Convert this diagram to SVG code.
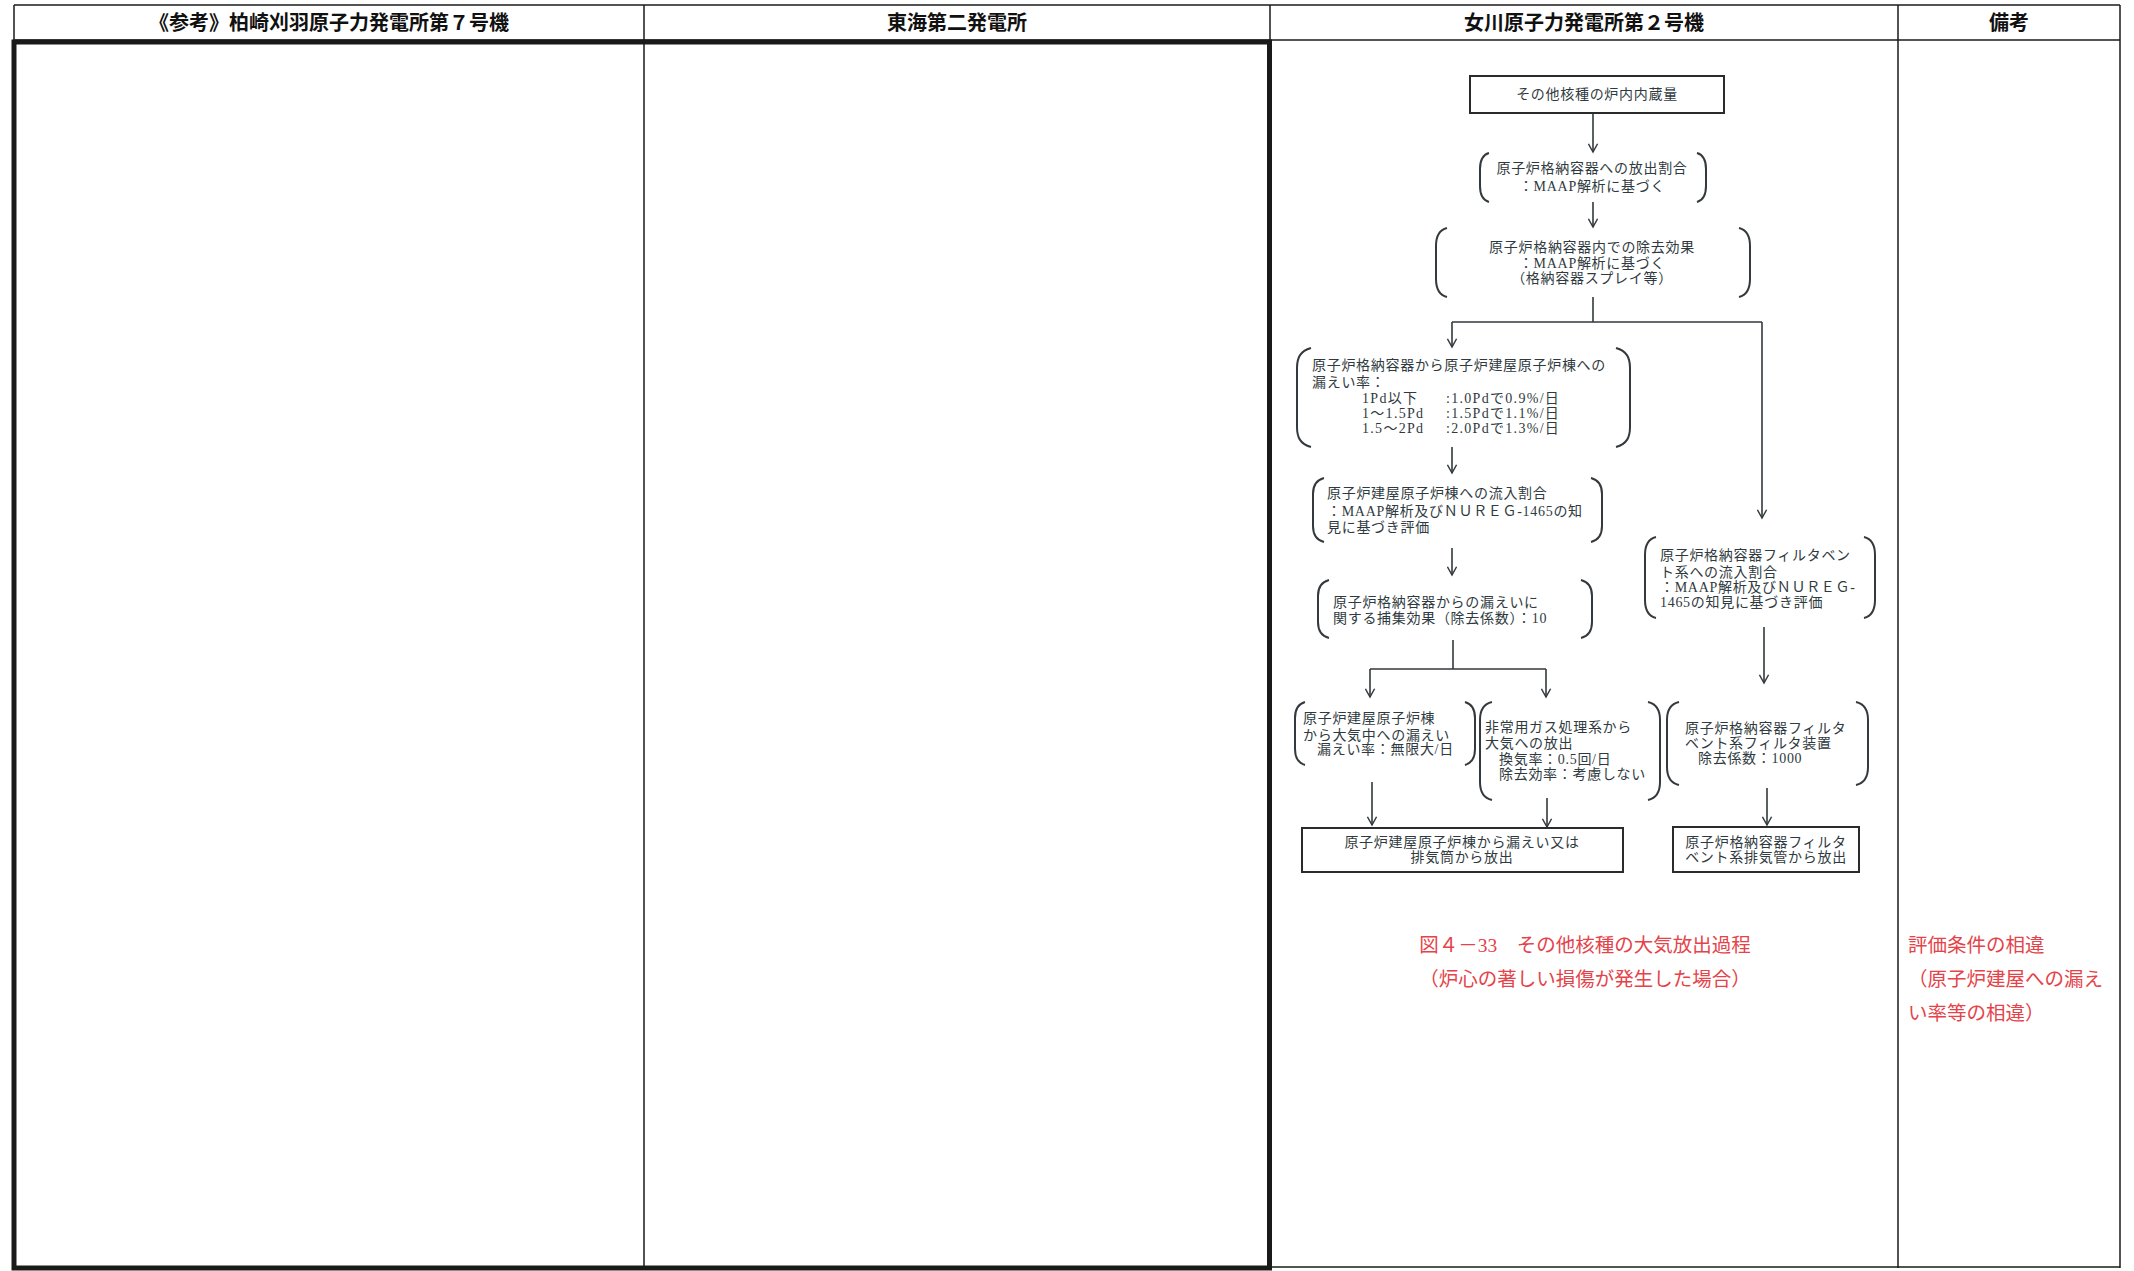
<svg xmlns="http://www.w3.org/2000/svg" width="2134" height="1271" viewBox="0 0 2134 1271">
<style>
.tl{stroke:#1a1a1a;stroke-width:1.5;fill:none}
.thick{stroke:#1a1a1a;stroke-width:5;fill:none}
.hd{font-family:"Noto Sans CJK JP","Liberation Sans",sans-serif;font-weight:bold;font-size:20px;fill:#111;text-anchor:middle}
.br{stroke:#33393c;stroke-width:2;fill:none}
.bx{stroke:#2b2b2b;stroke-width:2;fill:#fff}
.ln{stroke:#33393c;stroke-width:1.6;fill:none}
.ft{font-family:"Liberation Serif","Noto Sans CJK JP",serif;font-size:14px;letter-spacing:0.7px;fill:#2f3a40}
.ws{letter-spacing:1.3px}
.mid{text-anchor:middle}
.red{font-family:"Liberation Serif","Noto Sans CJK JP",serif;font-size:19.5px;fill:#e5434a}
</style>
<defs>
<marker id="ah" viewBox="0 0 12 12" refX="10" refY="6" markerWidth="11" markerHeight="11" markerUnits="userSpaceOnUse" orient="auto">
<path d="M1,1 L10,6 L1,11" fill="none" stroke="#33393c" stroke-width="1.6"/>
</marker>
</defs>
<rect width="2134" height="1271" fill="#fff"/>
<g id="table">
<line class="tl" x1="14" y1="5" x2="2120" y2="5"/>
<line class="tl" x1="14" y1="40" x2="2120" y2="40"/>
<line class="tl" x1="14" y1="5" x2="14" y2="42"/>
<line class="tl" x1="644" y1="5" x2="644" y2="1268"/>
<line class="tl" x1="1270" y1="5" x2="1270" y2="1268"/>
<line class="tl" x1="1898" y1="5" x2="1898" y2="1268"/>
<line class="tl" x1="2120" y1="5" x2="2120" y2="1268"/>
<line class="tl" x1="1270" y1="1267" x2="2120" y2="1267"/>
<rect class="thick" x="14" y="42" width="1255.5" height="1226"/>
<text class="hd" x="329" y="30">《参考》柏崎刈羽原子力発電所第７号機</text>
<text class="hd" x="957" y="30">東海第二発電所</text>
<text class="hd" x="1584" y="30">女川原子力発電所第２号機</text>
<text class="hd" x="2009" y="30">備考</text>
</g>
<g id="connectors">
<line class="ln" x1="1593" y1="113" x2="1593" y2="152" marker-end="url(#ah)"/>
<line class="ln" x1="1593" y1="202" x2="1593" y2="227" marker-end="url(#ah)"/>
<polyline class="ln" points="1593,297 1593,322"/>
<polyline class="ln" points="1452,322 1762,322"/>
<line class="ln" x1="1452" y1="322" x2="1452" y2="347" marker-end="url(#ah)"/>
<line class="ln" x1="1762" y1="322" x2="1762" y2="518" marker-end="url(#ah)"/>
<line class="ln" x1="1452" y1="447" x2="1452" y2="473" marker-end="url(#ah)"/>
<line class="ln" x1="1452" y1="548" x2="1452" y2="575" marker-end="url(#ah)"/>
<polyline class="ln" points="1453,640 1453,669"/>
<polyline class="ln" points="1370,669 1546,669"/>
<line class="ln" x1="1370" y1="669" x2="1370" y2="697" marker-end="url(#ah)"/>
<line class="ln" x1="1546" y1="669" x2="1546" y2="697" marker-end="url(#ah)"/>
<line class="ln" x1="1372" y1="782" x2="1372" y2="825" marker-end="url(#ah)"/>
<line class="ln" x1="1547" y1="798" x2="1547" y2="827" marker-end="url(#ah)"/>
<line class="ln" x1="1764" y1="627" x2="1764" y2="683" marker-end="url(#ah)"/>
<line class="ln" x1="1767" y1="788" x2="1767" y2="825" marker-end="url(#ah)"/>
</g>
<g id="n1">
<rect class="bx" x="1470" y="76" width="254" height="37"/>
<text class="ft mid" x="1597" y="99">その他核種の炉内内蔵量</text>
</g>
<g id="n2">
<path class="br" d="M1489,153 C1482,155 1480,161 1480,169 L1480,186 C1480,194 1482,200 1489,202"/>
<path class="br" d="M1697,153 C1704,155 1706,161 1706,169 L1706,186 C1706,194 1704,200 1697,202"/>
<text class="ft mid" x="1592" y="173">原子炉格納容器への放出割合</text>
<text class="ft mid" x="1592" y="191">：MAAP解析に基づく</text>
</g>
<g id="n3">
<path class="br" d="M1447,228 C1439,230 1436,237 1436,246 L1436,279 C1436,288 1439,295 1447,297"/>
<path class="br" d="M1739,228 C1747,230 1750,237 1750,246 L1750,279 C1750,288 1747,295 1739,297"/>
<text class="ft mid" x="1592" y="252">原子炉格納容器内での除去効果</text>
<text class="ft mid" x="1592" y="268">：MAAP解析に基づく</text>
<text class="ft mid" x="1592" y="283">（格納容器スプレイ等）</text>
</g>
<g id="n4">
<path class="br" d="M1311,348 C1300,351 1297,358 1297,368 L1297,427 C1297,437 1300,444 1311,447"/>
<path class="br" d="M1616,348 C1627,351 1630,358 1630,368 L1630,427 C1630,437 1627,444 1616,447"/>
<text class="ft" x="1312" y="370">原子炉格納容器から原子炉建屋原子炉棟への</text>
<text class="ft" x="1312" y="387">漏えい率：</text>
<text class="ft ws" x="1362" y="403">1Pd以下</text>
<text class="ft ws" x="1446" y="403">:1.0Pdで0.9%/日</text>
<text class="ft ws" x="1362" y="418">1～1.5Pd</text>
<text class="ft ws" x="1446" y="418">:1.5Pdで1.1%/日</text>
<text class="ft ws" x="1362" y="433">1.5～2Pd</text>
<text class="ft ws" x="1446" y="433">:2.0Pdで1.3%/日</text>
</g>
<g id="n5">
<path class="br" d="M1324,478 C1316,480 1313,486 1313,494 L1313,526 C1313,534 1316,540 1324,542"/>
<path class="br" d="M1591,478 C1599,480 1602,486 1602,494 L1602,526 C1602,534 1599,540 1591,542"/>
<text class="ft" x="1327" y="498">原子炉建屋原子炉棟への流入割合</text>
<text class="ft" x="1327" y="516">：MAAP解析及びＮＵＲＥＧ-1465の知</text>
<text class="ft" x="1327" y="532">見に基づき評価</text>
</g>
<g id="n6">
<path class="br" d="M1329,580 C1321,582 1318,588 1318,596 L1318,622 C1318,630 1321,636 1329,638"/>
<path class="br" d="M1581,580 C1589,582 1592,588 1592,596 L1592,622 C1592,630 1589,636 1581,638"/>
<text class="ft" x="1333" y="607">原子炉格納容器からの漏えいに</text>
<text class="ft" x="1333" y="623">関する捕集効果（除去係数）：10</text>
</g>
<g id="n7a">
<path class="br" d="M1305,702 C1298,704 1295,710 1295,718 L1295,749 C1295,757 1298,763 1305,765"/>
<path class="br" d="M1465,702 C1472,704 1475,710 1475,718 L1475,749 C1475,757 1472,763 1465,765"/>
<text class="ft" x="1303" y="723">原子炉建屋原子炉棟</text>
<text class="ft" x="1303" y="740">から大気中への漏えい</text>
<text class="ft" x="1317" y="754">漏えい率：無限大/日</text>
</g>
<g id="n7b">
<path class="br" d="M1492,702 C1483,704 1480,711 1480,720 L1480,782 C1480,791 1483,798 1492,800"/>
<path class="br" d="M1648,702 C1657,704 1660,711 1660,720 L1660,782 C1660,791 1657,798 1648,800"/>
<text class="ft" x="1485" y="732">非常用ガス処理系から</text>
<text class="ft" x="1485" y="748">大気への放出</text>
<text class="ft" x="1499" y="764">換気率：0.5回/日</text>
<text class="ft" x="1499" y="779">除去効率：考慮しない</text>
</g>
<g id="n8">
<rect class="bx" x="1302" y="828" width="321" height="44"/>
<text class="ft mid" x="1462" y="847">原子炉建屋原子炉棟から漏えい又は</text>
<text class="ft mid" x="1462" y="862">排気筒から放出</text>
</g>
<g id="n9">
<path class="br" d="M1656,537 C1648,539 1645,546 1645,555 L1645,600 C1645,609 1648,616 1656,618"/>
<path class="br" d="M1864,537 C1872,539 1875,546 1875,555 L1875,600 C1875,609 1872,616 1864,618"/>
<text class="ft" x="1660" y="560">原子炉格納容器フィルタベン</text>
<text class="ft" x="1660" y="577">ト系への流入割合</text>
<text class="ft" x="1660" y="592">：MAAP解析及びＮＵＲＥＧ-</text>
<text class="ft" x="1660" y="607">1465の知見に基づき評価</text>
</g>
<g id="n10">
<path class="br" d="M1679,702 C1670,704 1667,711 1667,720 L1667,767 C1667,776 1670,783 1679,785"/>
<path class="br" d="M1856,702 C1865,704 1868,711 1868,720 L1868,767 C1868,776 1865,783 1856,785"/>
<text class="ft" x="1685" y="733">原子炉格納容器フィルタ</text>
<text class="ft" x="1685" y="748">ベント系フィルタ装置</text>
<text class="ft" x="1698" y="763">除去係数：1000</text>
</g>
<g id="n11">
<rect class="bx" x="1673" y="827" width="186" height="45"/>
<text class="ft mid" x="1766" y="847">原子炉格納容器フィルタ</text>
<text class="ft mid" x="1766" y="862">ベント系排気管から放出</text>
</g>
<g id="caption">
<text class="red" x="1585" y="952" text-anchor="middle">図４－33　その他核種の大気放出過程</text>
<text class="red" x="1585" y="986" text-anchor="middle">（炉心の著しい損傷が発生した場合）</text>
</g>
<g id="remarks">
<text class="red" x="1908" y="952">評価条件の相違</text>
<text class="red" x="1908" y="986">（原子炉建屋への漏え</text>
<text class="red" x="1908" y="1020">い率等の相違）</text>
</g>
</svg>
